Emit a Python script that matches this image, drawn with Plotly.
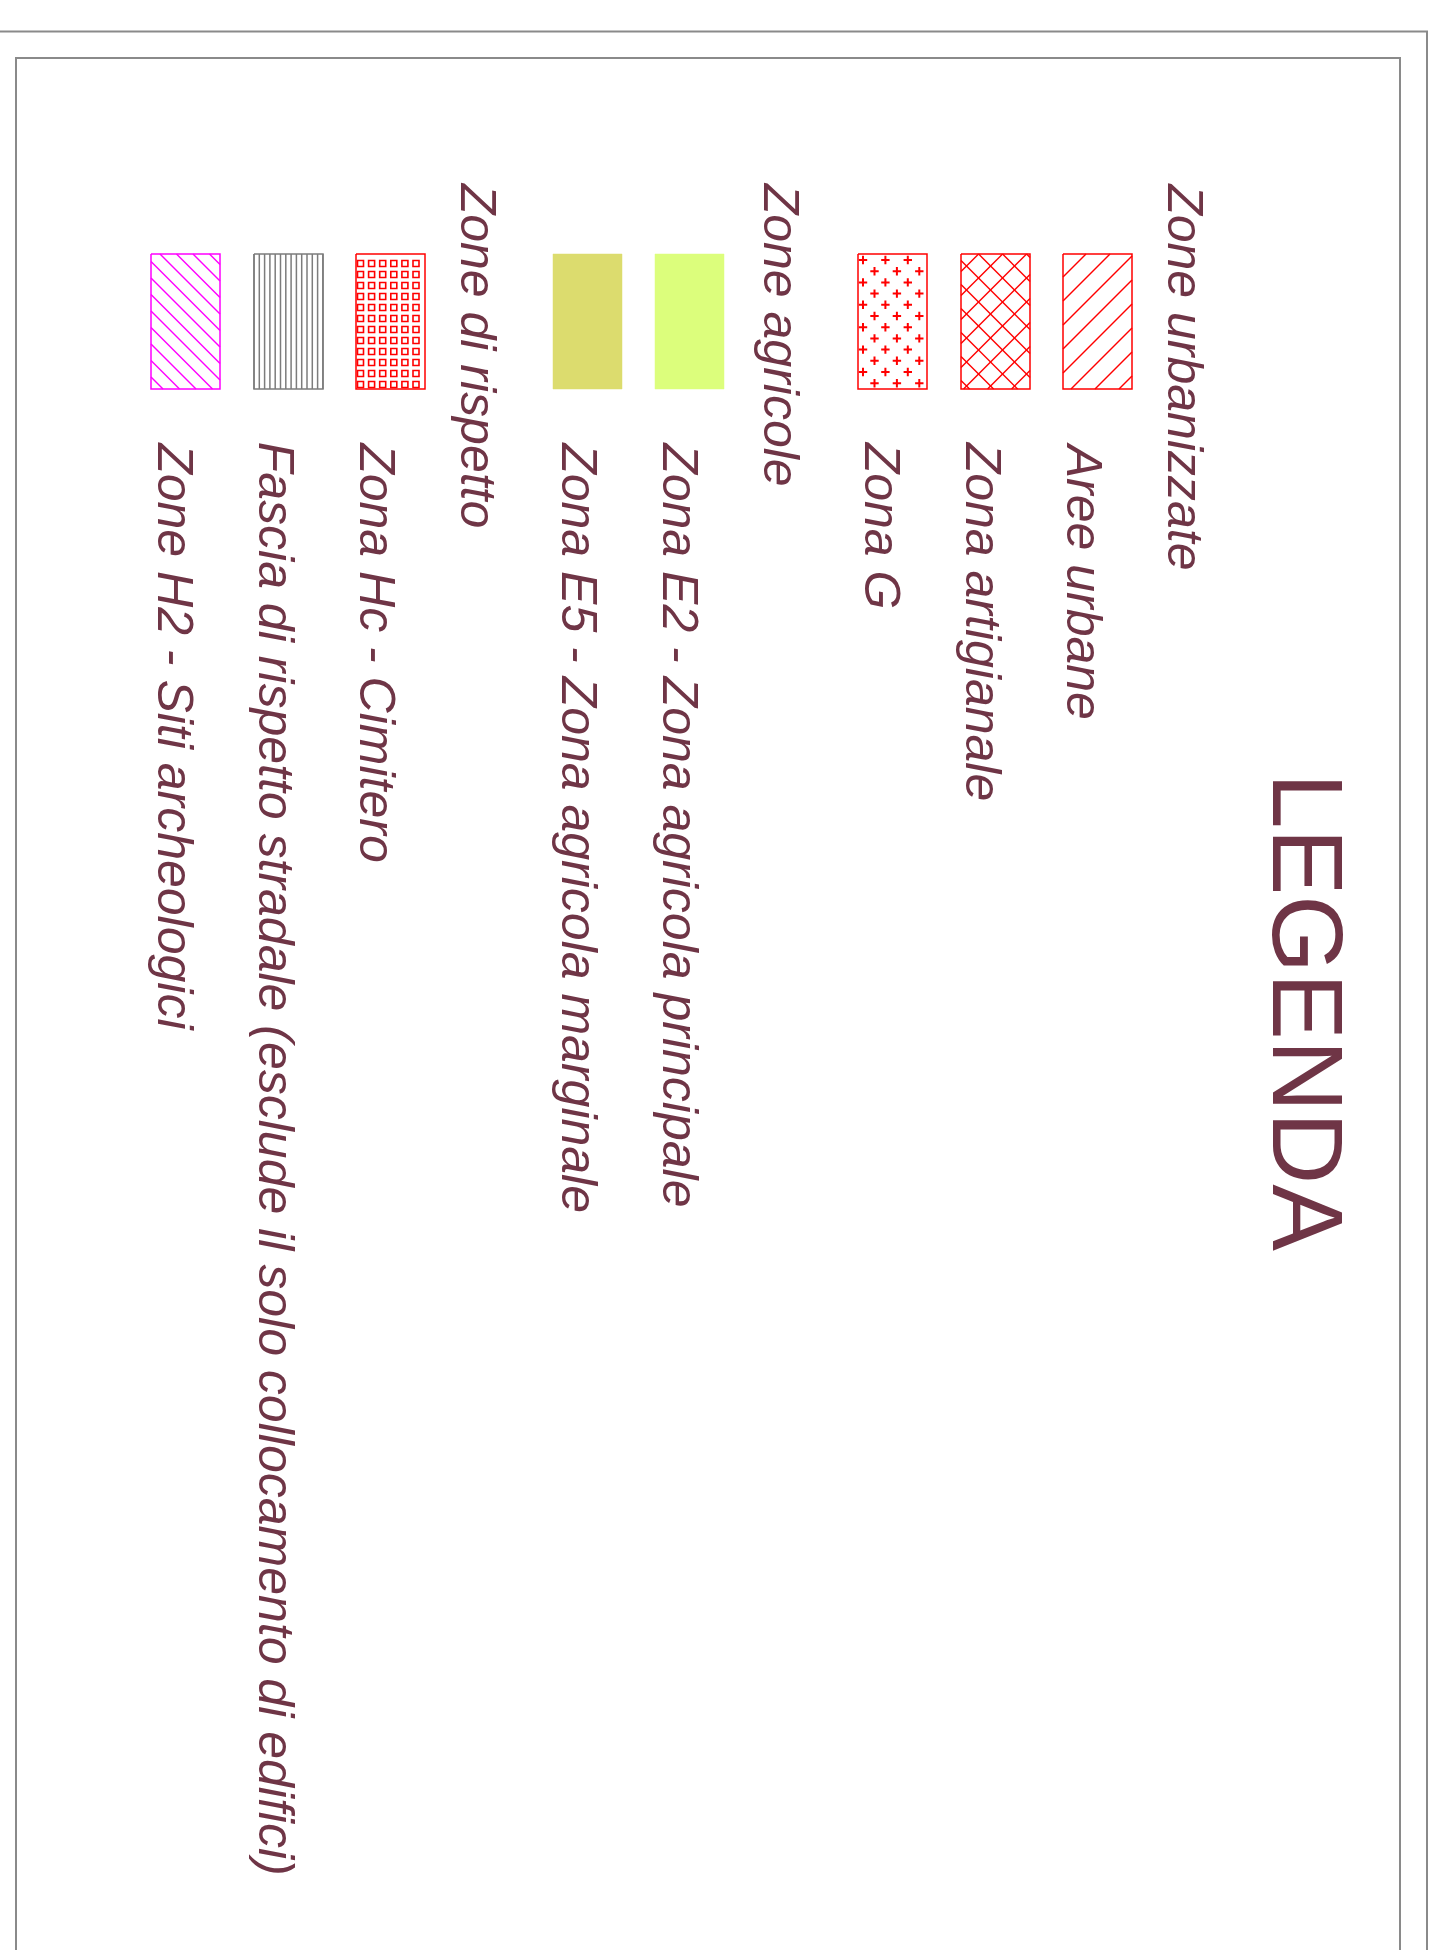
import numpy as np
import plotly.graph_objects as go

W, H = 1437, 1950

# ---------------- content ----------------
title = "LEGENDA"
headers = ["Zone urbanizzate", "Zone agricole", "Zone di rispetto"]
header_rows = [0, 4, 7]
items = ["Aree urbane",
         "Zona artigianale",
         "Zona G",
         "Zona E2 - Zona agricola principale",
         "Zona E5 - Zona agricola marginale",
         "Zona Hc - Cimitero",
         "Fascia di rispetto stradale (esclude il solo collocamento di edifici)",
         "Zone H2 - Siti archeologici"]
item_rows = [1, 2, 3, 5, 6, 8, 9, 10]
item_styles = ["diag", "cross", "plus", "fill", "fill", "squares", "vlines", "backdiag"]
item_colors = ["#ff0000", "#ff0000", "#ff0000", "#dcfe7c", "#dcdc6e",
               "#ff0000", "#7c7c7c", "#ff00ff"]

# ---------------- geometry (page pixels) ----------------
TEXT_COLOR = "#6f3546"
FONT = "Liberation Sans, Arial, sans-serif"
FS = 50
BASE0, STEP = 1168.0, 101.0          # text baseline of row 0, row step
SW_LEFTS = [1063, 961, 858, 655, 553, 356, 254, 151]   # swatch left edges
SW_W = 69.0
SW_Y0, SW_Y1 = 254.0, 389.0
HEADER_Y, ITEM_Y = 181.0, 440.0


def text_center(row):
    return BASE0 - row * STEP + 0.3465 * FS


def clip(n, c, box):
    x0, x1, y0, y1 = box
    p0 = np.array(n) * c
    d = np.array([-n[1], n[0]])
    tmin, tmax = -1e9, 1e9
    for i, (lo, hi) in enumerate([(x0, x1), (y0, y1)]):
        if abs(d[i]) < 1e-12:
            if p0[i] < lo or p0[i] > hi:
                return None
        else:
            t1, t2 = (lo - p0[i]) / d[i], (hi - p0[i]) / d[i]
            tmin = max(tmin, min(t1, t2))
            tmax = min(tmax, max(t1, t2))
    if tmax - tmin < 0.5:
        return None
    a, b = p0 + tmin * d, p0 + tmax * d
    return (a[0], b[0]), (a[1], b[1])


def hatch(box, normal, spacing, phase):
    n = np.array(normal, float)
    n = n / np.linalg.norm(n)
    x0, x1, y0, y1 = box
    cs = [n @ np.array(p) for p in [(x0, y0), (x0, y1), (x1, y0), (x1, y1)]]
    c0 = n @ np.array(phase)
    k0 = int(np.floor((min(cs) - c0) / spacing)) - 1
    k1 = int(np.ceil((max(cs) - c0) / spacing)) + 1
    xs, ys = [], []
    for k in range(k0, k1 + 1):
        seg = clip(n, c0 + k * spacing, box)
        if seg:
            xs += [seg[0][0], seg[0][1], None]
            ys += [seg[1][0], seg[1][1], None]
    return xs, ys


fig = go.Figure()


def add_lines(xs, ys, color, width=1.4):
    fig.add_trace(go.Scatter(x=xs, y=ys, mode="lines",
                             line=dict(color=color, width=width),
                             hoverinfo="skip"))


def add_rect(box, color, fill=None, width=1.5):
    x0, x1, y0, y1 = box
    fig.add_trace(go.Scatter(x=[x0, x1, x1, x0, x0], y=[y0, y0, y1, y1, y0],
                             mode="lines", line=dict(color=color, width=width),
                             fill="toself" if fill else None, fillcolor=fill,
                             hoverinfo="skip"))


for name, left, style, col in zip(items, SW_LEFTS, item_styles, item_colors):
    box = (left, left + SW_W, SW_Y0, SW_Y1)
    x0, x1, y0, y1 = box
    if style == "fill":
        add_rect(box, col, fill=col, width=0.5)
    else:
        if style == "diag":
            xs, ys = hatch(box, (1, 1), 24 / np.sqrt(2), (x0, y0 + 23))
            add_lines(xs, ys, col)
        elif style == "cross":
            ph = (x0 + 17.6, y0)
            xs, ys = hatch(box, (1, 1), 24 / np.sqrt(2), ph)
            add_lines(xs, ys, col)
            xs, ys = hatch(box, (1, -1), 24 / np.sqrt(2), ph)
            add_lines(xs, ys, col)
        elif style == "backdiag":
            xs, ys = hatch(box, (1, -1), 16.5 / np.sqrt(2), (x0 + 9, y0))
            add_lines(xs, ys, col)
        elif style == "vlines":
            xs, ys = hatch(box, (1, 0), 5.3, (x0, y0))
            add_lines(xs, ys, col, width=1.5)
        elif style == "plus":
            px, py = [], []
            for i in range(12):
                yy = y0 + 6 + i * 11.2
                off = 5 if i % 2 == 0 else 16.5
                for j in range(3):
                    px.append(x0 + off + j * 22.4)
                    py.append(yy)
            fig.add_trace(go.Scatter(x=px, y=py, mode="markers",
                                     marker=dict(symbol="cross-thin", size=6,
                                                 line=dict(color=col, width=2)),
                                     hoverinfo="skip"))
        elif style == "squares":
            px, py = [], []
            for i in range(12):
                for j in range(6):
                    px.append(x0 + 4.5 + j * 11.1)
                    py.append(y0 + 9.5 + i * 11.0)
            fig.add_trace(go.Scatter(x=px, y=py, mode="markers",
                                     marker=dict(symbol="square-open", size=6,
                                                 color=col,
                                                 line=dict(color=col, width=1.6)),
                                     hoverinfo="skip"))
        add_rect(box, col)

annotations = []
for name, row in zip(headers, header_rows):
    annotations.append(dict(x=text_center(row), y=HEADER_Y, text=name))
for name, row in zip(items, item_rows):
    annotations.append(dict(x=text_center(row), y=ITEM_Y, text=name))
for a in annotations:
    a.update(xref="x", yref="y", xanchor="center", yanchor="top",
             textangle=90, showarrow=False,
             font=dict(family=FONT, size=FS, color=TEXT_COLOR, style="italic"))
annotations.append(dict(x=1308, y=1012, xref="x", yref="y", text=title,
                        xanchor="center", yanchor="middle", textangle=90,
                        showarrow=False,
                        font=dict(family=FONT, size=100, color=TEXT_COLOR)))

frame = "#8a8a8a"
shapes = [
    dict(type="rect", xref="x", yref="y", x0=-10, x1=1427, y0=31.5, y1=2100,
         line=dict(color=frame, width=2), fillcolor="rgba(0,0,0,0)", layer="below"),
    dict(type="rect", xref="x", yref="y", x0=16, x1=1400, y0=58, y1=2100,
         line=dict(color=frame, width=2), fillcolor="rgba(0,0,0,0)", layer="below"),
]

fig.update_layout(
    width=W, height=H, margin=dict(l=0, r=0, t=0, b=0),
    paper_bgcolor="white", plot_bgcolor="white", showlegend=False,
    xaxis=dict(range=[0, W], visible=False, fixedrange=True),
    yaxis=dict(range=[H, 0], visible=False, fixedrange=True),
    annotations=annotations, shapes=shapes,
)

fig.write_html("out.html", config={"displayModeBar": False},
               post_script="document.body.style.margin='0';document.body.style.overflow='hidden';")
